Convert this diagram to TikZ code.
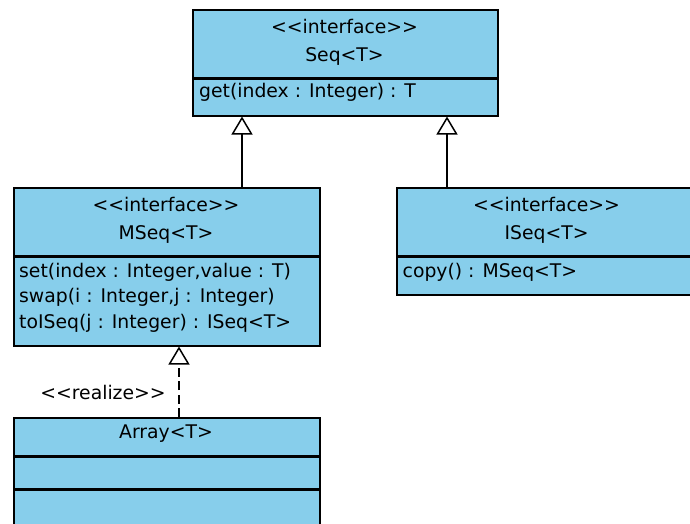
\documentclass[tikz,border=0pt]{standalone}
\usepackage{fontspec}
\newfontfamily\umlfont{DejaVu Sans}
\usetikzlibrary{arrows.meta}
\definecolor{umlblue}{RGB}{135,206,235}

\begin{document}
\begin{tikzpicture}[x=1pt,y=-1pt,
    part/.style={draw,fill=umlblue,line width=1.5pt,anchor=north west,inner sep=0pt},
    divider/.style={line width=3pt},
    txt/.style={anchor=base,inner sep=0pt,font=\umlfont\fontsize{18.8}{22}\selectfont},
    ltxt/.style={txt,anchor=base west},
    gen/.style={line width=1.5pt,-{Triangle[open,length=18pt,width=21pt,fill=white]}}]
    \useasboundingbox (0,0) rectangle (690,523);
    % Seq
    \node[part,minimum width=305,minimum height=68] (seqh) at (192,9) {};
    \node[part,minimum width=305,minimum height=38] (seqb) at (192,77) {};
    \draw[divider] (seqh.south west) -- (seqh.south east);
    \node[txt] (seqst) at (344.5,33) {<<interface>>};
    \node[txt] (seqname) at (344.5,61) {Seq<T>};
    \node[ltxt] (seqget) at (199,97.5) {get(index : Integer) : T};
    % MSeq
    \node[part,minimum width=306,minimum height=68] (mseqh) at (13,187) {};
    \node[part,minimum width=306,minimum height=90] (mseqb) at (13,255) {};
    \draw[divider] (mseqh.south west) -- (mseqh.south east);
    \node[txt] (mseqst) at (166,211) {<<interface>>};
    \node[txt] (mseqname) at (166,239) {MSeq<T>};
    \node[ltxt] (mseqset) at (19,277) {set(index : Integer,value : T)};
    \node[ltxt] (mseqswap) at (19,302.5) {swap(i : Integer,j : Integer)};
    \node[ltxt] (mseqto) at (19,328) {toISeq(j : Integer) : ISeq<T>};
    % ISeq
    \node[part,minimum width=301,minimum height=68] (iseqh) at (396,187) {};
    \node[part,minimum width=301,minimum height=39] (iseqb) at (396,255) {};
    \draw[divider] (iseqh.south west) -- (iseqh.south east);
    \node[txt] (iseqst) at (546.5,211) {<<interface>>};
    \node[txt] (iseqname) at (546.5,239) {ISeq<T>};
    \node[ltxt] (iseqcopy) at (402.5,277) {copy() : MSeq<T>};
    % Array
    \node[part,minimum width=306,minimum height=38] (arrh) at (13,417) {};
    \node[part,minimum width=306,minimum height=33] (arrm) at (13,455) {};
    \node[part,minimum width=306,minimum height=40] (arrb) at (13,488) {};
    \draw[divider] (arrh.south west) -- (arrh.south east);
    \draw[divider] (arrm.south west) -- (arrm.south east);
    \node[txt] (arrname) at (166,438) {Array<T>};
    % arrows
    \coordinate (g1) at (242,187);
    \coordinate (g2) at (447,187);
    \coordinate (r1) at (179,417);
    \draw[gen] (g1) -- (g1 |- seqb.south);
    \draw[gen] (g2) -- (g2 |- seqb.south);
    \draw[gen,dash pattern=on 9pt off 4.5pt] (r1) -- (r1 |- mseqb.south);
    \node[txt] (realize) at (103,399) {<<realize>>};
\end{tikzpicture}
\end{document}
